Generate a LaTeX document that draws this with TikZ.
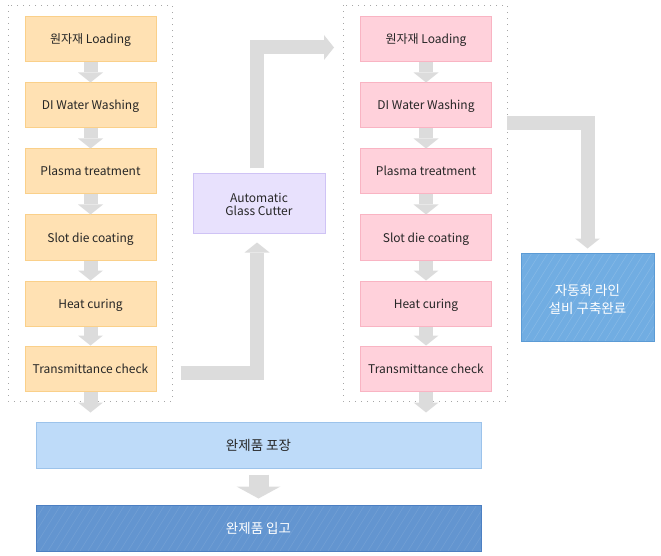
\documentclass[tikz,border=0pt]{standalone}
\usepackage{fontspec}
\setmainfont{Noto Sans CJK KR}
\usetikzlibrary{arrows.meta}
\definecolor{ofill}{HTML}{FFE1B3}
\definecolor{oline}{HTML}{FAD08A}
\definecolor{pfill}{HTML}{FFD1DB}
\definecolor{pline}{HTML}{F9B4C3}
\definecolor{vfill}{HTML}{E8E1FD}
\definecolor{vline}{HTML}{CFC3F5}
\definecolor{bfill}{HTML}{71ADE2}
\definecolor{bline}{HTML}{5B9BD5}
\definecolor{lfill}{HTML}{BEDBF9}
\definecolor{lline}{HTML}{9CC3EB}
\definecolor{dfill}{HTML}{6395D0}
\definecolor{dline}{HTML}{4C7FC2}
\definecolor{arr}{HTML}{DCDCDC}
\definecolor{txt}{HTML}{262626}
\tikzset{
  box/.style={draw, line width=1pt, minimum width=131pt, minimum height=45pt, inner sep=0pt, text=txt, font=\fontsize{12}{14}\selectfont},
  single/.style={text height=9.5pt, text depth=0.5pt},
  obox/.style={box, single, fill=ofill, draw=oline},
  pbox/.style={box, single, fill=pfill, draw=pline},
  frame/.style={draw=gray!70, line width=0.8pt, dash pattern=on 0.8pt off 5.2pt},
  garrow/.style={draw=arr, line width=14pt, line join=miter,
    -{Triangle[width=25pt,length=10pt,line width=0pt]}},
  bigarrow/.style={draw=arr, line width=20pt,
    -{Triangle[width=44pt,length=12pt,line width=0pt]}},
  hatched/.style={path picture={
    \foreach \i in {-20,...,75}
      \draw[#1, line width=0.5pt] ([xshift=\i*8pt-60pt]path picture bounding box.south west) -- ++(58:300pt);
  }},
}
\begin{document}
\begin{tikzpicture}[x=1pt,y=-1pt]
\useasboundingbox (0,0) rectangle (661,556);
\draw[frame] (8,5) rectangle (172,401);
\draw[frame] (343,5) rectangle (507,401);

\node[obox] (l1) at (90.5,39.5) {원자재 Loading};
\node[obox] (l2) at (90.5,105.5) {DI Water Washing};
\node[obox] (l3) at (90.5,171.5) {Plasma treatment};
\node[obox] (l4) at (90.5,237.5) {Slot die coating};
\node[obox] (l5) at (90.5,303.5) {Heat curing};
\node[obox] (l6) at (90.5,368.5) {Transmittance check};

\node[pbox] (r1) at (426,39.5) {원자재 Loading};
\node[pbox] (r2) at (426,105.5) {DI Water Washing};
\node[pbox] (r3) at (426,171.5) {Plasma treatment};
\node[pbox] (r4) at (426,237.5) {Slot die coating};
\node[pbox] (r5) at (426,303.5) {Heat curing};
\node[pbox] (r6) at (426,368.5) {Transmittance check};

\node[box, fill=vfill, draw=vline, minimum width=132pt, minimum height=59pt, align=center] (gc) at (259,203.5) {\rule{0pt}{12pt}Automatic\\[-1pt]Glass Cutter};

\node[box, fill=bfill, draw=bline, minimum width=133pt, minimum height=88pt, align=center, text=white,
  font=\fontsize{13.5}{18}\selectfont, hatched=white!16!bfill] (bb) at (587.5,297) {\rule{0pt}{16pt}자동화 라인\\설비 구축완료};

\node[box, fill=lfill, draw=lline, minimum width=445pt, minimum height=46pt, font=\fontsize{13.5}{16}\selectfont,
  text height=11pt, text depth=0pt] (pk) at (258.5,445) {완제품 포장};
\node[box, fill=dfill, draw=dline, minimum width=445pt, minimum height=46pt, text=white, font=\fontsize{13.5}{16}\selectfont,
  text height=11pt, text depth=0pt, hatched=white!11!dfill] (ip) at (258.5,528) {완제품 입고};

\foreach \a/\b in {l1/l2,l2/l3,l3/l4,l4/l5,l5/l6,r1/r2,r2/r3,r3/r4,r4/r5,r5/r6}
  \draw[garrow] (\a.south) -- (\b.north);

\draw[garrow, shorten >=9pt] (l6.south) -- (l6.south |- pk.north);
\draw[garrow, shorten >=9pt] (r6.south) -- (r6.south |- pk.north);
\draw[bigarrow] ([yshift=-6pt]pk.south) -- ([yshift=6pt]ip.north);

\coordinate (s1) at ([xshift=24pt,yshift=-4.5pt]l6.east);
\draw[garrow] (s1) -| ([xshift=-2pt,yshift=-9pt]gc.south);

\coordinate (t1) at ([xshift=-26pt,yshift=-8pt]r1.west);
\draw[garrow] ([xshift=-2.5pt,yshift=5pt]gc.north) |- (t1);

\coordinate (s2) at ([xshift=15pt,yshift=-18pt]r2.east);
\draw[garrow] (s2) -| ([yshift=4pt]bb.north);
\end{tikzpicture}
\end{document}
